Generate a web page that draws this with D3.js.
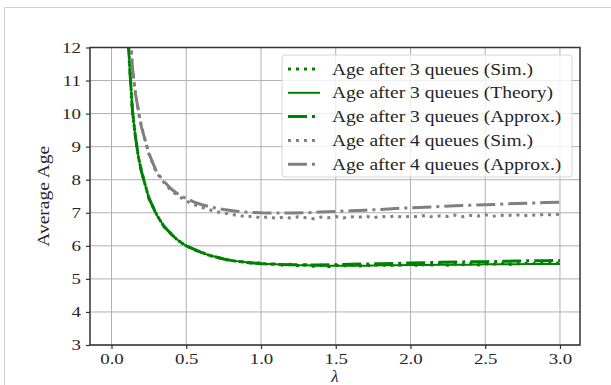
<!DOCTYPE html>
<html><head><meta charset="utf-8">
<script src="https://cdn.jsdelivr.net/npm/d3@7"></script>
<style>html,body{margin:0;padding:0;background:#fff;}svg{display:block;}</style>
</head><body>
<svg id="chart" width="611" height="385"></svg>
<script>
// ---- data ----
const lamSim = [0.10,0.12,0.14,0.16,0.18,0.20,0.25,0.30,0.35,0.40,0.45,0.50,0.55,0.60,0.65,0.70,0.75,0.80,0.85,0.90,0.95,1.00,1.05,1.10,1.15,1.20,1.25,1.30,1.35,1.40,1.45,1.50,1.55,1.60,1.65,1.70,1.75,1.80,1.85,1.90,1.95,2.00,2.05,2.10,2.15,2.20,2.25,2.30,2.35,2.40,2.45,2.50,2.55,2.60,2.65,2.70,2.75,2.80,2.85,2.90,2.95,3.00];
const sim3 = [13.2,11.6,10.05,9.3,8.68,8.27,7.43,6.97,6.58,6.37,6.13,6.01,5.88,5.81,5.71,5.67,5.58,5.57,5.51,5.52,5.46,5.49,5.43,5.46,5.41,5.44,5.40,5.43,5.38,5.42,5.37,5.41,5.39,5.43,5.38,5.42,5.40,5.44,5.39,5.43,5.41,5.45,5.40,5.44,5.42,5.46,5.41,5.45,5.43,5.47,5.42,5.46,5.44,5.48,5.43,5.47,5.45,5.49,5.44,5.48,5.46,5.49];
const sim4 = [15.3,12.9,11.35,10.65,10.05,9.62,8.78,8.22,7.92,7.66,7.5,7.36,7.25,7.17,7.1,7.03,7.0,6.94,6.93,6.87,6.9,6.84,6.88,6.83,6.87,6.84,6.88,6.85,6.82,6.87,6.85,6.89,6.84,6.88,6.86,6.9,6.85,6.89,6.87,6.91,6.86,6.9,6.88,6.92,6.87,6.91,6.89,6.93,6.88,6.92,6.9,6.94,6.89,6.93,6.91,6.95,6.9,6.94,6.92,6.96,6.93,6.96];
const lamCurve = [0.10,0.12,0.14,0.16,0.18,0.20,0.25,0.30,0.35,0.40,0.45,0.50,0.55,0.60,0.65,0.70,0.75,0.80,0.85,0.90,0.95,1.0,1.1,1.2,1.3,1.4,1.5,1.6,1.7,1.8,1.9,2.0,2.1,2.2,2.3,2.4,2.5,2.6,2.7,2.8,2.9,3.0];
const theory3 = [13.3,11.5,10.1,9.3,8.7,8.25,7.45,6.95,6.6,6.35,6.15,6.0,5.9,5.8,5.72,5.66,5.6,5.56,5.53,5.5,5.48,5.46,5.44,5.42,5.41,5.4,5.4,5.4,5.4,5.41,5.41,5.42,5.42,5.43,5.43,5.43,5.44,5.44,5.44,5.45,5.45,5.45];
const approx3 = [13.3,11.5,10.1,9.3,8.7,8.25,7.45,6.95,6.6,6.35,6.15,6.0,5.9,5.8,5.72,5.66,5.6,5.56,5.53,5.5,5.48,5.46,5.44,5.43,5.42,5.42,5.43,5.44,5.45,5.46,5.47,5.48,5.49,5.5,5.51,5.52,5.52,5.53,5.54,5.55,5.55,5.56];
const approx4 = [15.5,12.8,11.4,10.6,10.1,9.6,8.8,8.25,7.95,7.72,7.55,7.43,7.33,7.25,7.19,7.14,7.1,7.07,7.04,7.02,7.01,7.0,6.99,6.99,7.0,7.02,7.04,7.06,7.08,7.1,7.13,7.15,7.17,7.19,7.21,7.23,7.24,7.26,7.28,7.29,7.31,7.32];
const xTicks = [0.0,0.5,1.0,1.5,2.0,2.5,3.0];
const yTicks = [3,4,5,6,7,8,9,10,11,12];
const seriesNames = ["Age after 3 queues (Sim.)","Age after 3 queues (Theory)","Age after 3 queues (Approx.)","Age after 4 queues (Sim.)","Age after 4 queues (Approx.)"];

// ---- styles ----
const GREEN = "#008000", GRAY = "#808080";
const styles = [
  {x: lamSim, y: sim3, color: GREEN, w: 3, dash: "3,5"},
  {x: lamCurve, y: theory3, color: GREEN, w: 2, dash: null},
  {x: lamCurve, y: approx3, color: GREEN, w: 3, dash: "19,5,3,5"},
  {x: lamSim, y: sim4, color: GRAY, w: 3, dash: "3,5"},
  {x: lamCurve, y: approx4, color: GRAY, w: 3, dash: "19,5,3,5"}
];

const svg = d3.select("#chart");
const FONT = '"Liberation Serif", serif';
const STRETCH = 1.22; // widen Times-like glyphs toward DejaVu Serif proportions
const L = 90, R = 580, T = 47.5, B = 345;

function widen(sel, k) {
  sel.each(function() {
    const w = this.getComputedTextLength();
    d3.select(this).attr("textLength", w * k).attr("lengthAdjust", "spacingAndGlyphs");
  });
}

// frame of the image
svg.append("path").attr("d", "M4.5,385 V7.5 H611").attr("fill","none").attr("stroke","#d0d0d0").attr("stroke-width",1);

const x = d3.scaleLinear().domain([-0.1438, 3.134]).range([L, R]);
const y = d3.scaleLinear().domain([3, 12]).range([B, T]);

// grid
const grid = svg.append("g");
grid.selectAll(".vx").data(xTicks).enter().append("line")
  .attr("x1", d => x(d)).attr("x2", d => x(d)).attr("y1", T).attr("y2", B)
  .attr("stroke", "#b0b0b0").attr("stroke-width", 1);
grid.selectAll(".hy").data(yTicks).enter().append("line")
  .attr("y1", d => y(d)).attr("y2", d => y(d)).attr("x1", L).attr("x2", R)
  .attr("stroke", "#b0b0b0").attr("stroke-width", 1);

// clip
svg.append("clipPath").attr("id","clip").append("rect").attr("x",L).attr("y",T).attr("width",R-L).attr("height",B-T);

const line = d3.line().x(d => x(d[0])).y(d => y(d[1]));
const plot = svg.append("g").attr("clip-path","url(#clip)");
styles.forEach(s => {
  const pts = s.x.map((v,i) => [v, s.y[i]]);
  plot.append("path").datum(pts).attr("d", line)
    .attr("fill","none").attr("stroke", s.color).attr("stroke-width", s.w)
    .attr("stroke-dasharray", s.dash).attr("stroke-linejoin","round");
});

// axes
const xAxis = svg.append("g").attr("transform", `translate(0,${B})`)
  .call(d3.axisBottom(x).tickValues(xTicks).tickFormat(d3.format(".1f")).tickSizeInner(4).tickSizeOuter(0).tickPadding(4));
const yAxis = svg.append("g").attr("transform", `translate(${L},0)`)
  .call(d3.axisLeft(y).tickValues(yTicks).tickFormat(d3.format("d")).tickSizeInner(4).tickSizeOuter(0).tickPadding(5));
[xAxis, yAxis].forEach(a => {
  a.attr("font-family", null).attr("font-size", null);
  a.select(".domain").remove();
  a.selectAll(".tick line").attr("stroke","#333").attr("stroke-width",1.2);
  a.selectAll("text").attr("font-family", FONT).attr("font-size", 15.5).attr("fill","#262626");
  widen(a.selectAll("text"), STRETCH);
});
svg.append("rect").attr("x",L).attr("y",T).attr("width",R-L).attr("height",B-T)
  .attr("fill","none").attr("stroke","#333").attr("stroke-width",1.5);

// axis labels
svg.append("text").attr("x", (L+R)/2).attr("y", 382).attr("text-anchor","middle")
  .attr("font-family", FONT).attr("font-size", 17).attr("font-style","italic").attr("fill","#262626").text("λ");
const yl = svg.append("text").attr("transform", `translate(49,${(T+B)/2}) rotate(-90)`).attr("text-anchor","middle")
  .attr("font-family", FONT).attr("font-size", 16).attr("fill","#262626").text("Average Age");
widen(yl, STRETCH);

// legend
const lg = svg.append("g");
lg.append("rect").attr("x",282).attr("y",55).attr("width",290).attr("height",122).attr("rx",3)
  .attr("fill","rgba(255,255,255,0.8)").attr("stroke","#d6d6d6").attr("stroke-width",1);
seriesNames.forEach((name, i) => {
  const s = styles[i];
  const yy = 69 + i * 23.8;
  lg.append("line").attr("x1",288).attr("x2",320).attr("y1",yy).attr("y2",yy)
    .attr("stroke", s.color).attr("stroke-width", s.w).attr("stroke-dasharray", s.dash);
  const t = lg.append("text").attr("x",332).attr("y",yy+5.5).attr("font-family",FONT).attr("font-size",16)
    .attr("fill","#262626").text(name);
  widen(t, STRETCH);
});
</script>
</body></html>
